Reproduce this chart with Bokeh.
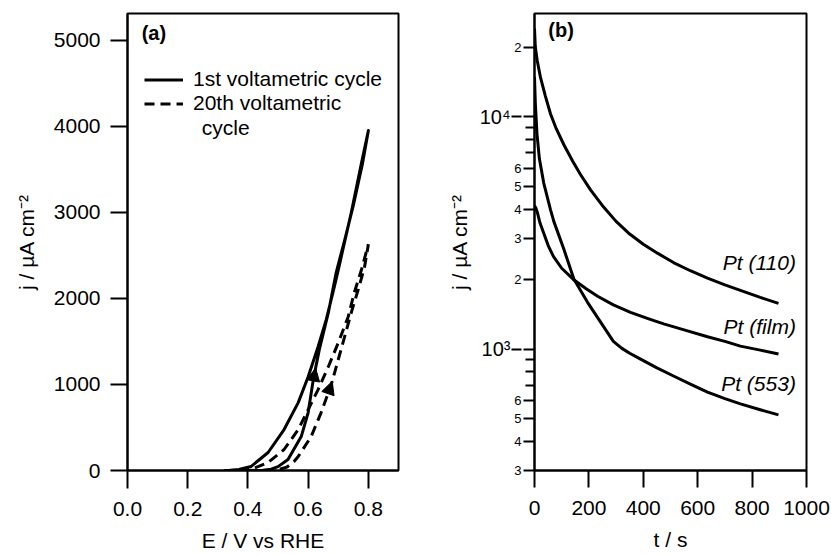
import numpy as np
from bokeh.plotting import figure
from bokeh.layouts import row
from bokeh.models import (Range1d, FixedTicker, Legend, LegendItem, Label, Arrow,
                          NormalHead, NumeralTickFormatter, LogAxis)
from bokeh.embed import file_html
from bokeh.resources import INLINE

# ---------------- panel (a) data : cyclic voltammograms ----------------
cyc1_fwd_E = [0.32, 0.40, 0.45, 0.477, 0.50, 0.533, 0.577, 0.60, 0.617, 0.637, 0.667, 0.693, 0.72, 0.75, 0.78, 0.80]
cyc1_fwd_j = [0, 0, 3, 15, 45, 128, 394, 673, 1056, 1404, 1833, 2300, 2660, 3080, 3560, 3950]
cyc1_rev_E = [0.80, 0.777, 0.743, 0.70, 0.687, 0.66, 0.633, 0.60, 0.567, 0.52, 0.467, 0.41, 0.37, 0.34, 0.32]
cyc1_rev_j = [3950, 3573, 2993, 2332, 2135, 1752, 1439, 1090, 789, 476, 209, 46, 12, 3, 0]

cyc20_fwd_E = [0.40, 0.46, 0.50, 0.53, 0.553, 0.567, 0.61, 0.643, 0.677, 0.70, 0.72, 0.743, 0.767, 0.787, 0.80]
cyc20_fwd_j = [0, 0, 10, 40, 104, 162, 394, 673, 1000, 1290, 1540, 1833, 2110, 2360, 2630]
cyc20_rev_E = [0.80, 0.777, 0.753, 0.733, 0.70, 0.667, 0.633, 0.60, 0.567, 0.52, 0.467, 0.42, 0.38]
cyc20_rev_j = [2630, 2332, 2065, 1787, 1485, 1206, 940, 708, 476, 244, 93, 25, 0]

legend_labels = ["1st voltametric cycle", "20th voltametric", "cycle"]

# ---------------- panel (b) data : chronoamperometry ----------------
t_110 = [0, 3, 10, 22, 40, 59, 80, 108, 140, 169, 206, 254, 300, 350, 400, 452, 511, 575, 636, 700, 757, 830, 897]
j_110 = [24000, 20000, 17500, 14800, 12300, 10300, 8900, 7590, 6460, 5650, 4850, 4090, 3550, 3130, 2830,
         2590, 2360, 2170, 2020, 1890, 1790, 1670, 1575]
t_film = [0, 5, 10, 20, 33, 50, 70, 100, 143, 190, 232, 290, 353, 420, 475, 550, 636, 700, 757, 830, 897]
j_film = [4150, 4050, 3900, 3500, 3180, 2800, 2500, 2230, 1996, 1820, 1690, 1550, 1440, 1350, 1285, 1210,
          1130, 1080, 1030, 990, 952]
t_553 = [0, 3, 9, 18, 34, 59, 71, 108, 145, 195, 243, 290, 320, 350, 390, 450, 511, 575, 636, 700, 757, 830, 897]
j_553 = [14860, 11500, 8500, 6600, 5190, 3980, 3550, 2690, 2000, 1590, 1306, 1080, 1010, 960, 906, 830, 766,
         705, 653, 612, 581, 548, 521]
series_b_names = ["Pt (110)", "Pt (film)", "Pt (553)"]

a_xticks = [0.0, 0.2, 0.4, 0.6, 0.8]
a_yticks = [0, 1000, 2000, 3000, 4000, 5000]
b_xticks = [0, 200, 400, 600, 800, 1000]
b_yticks_major = [300, 400, 500, 600, 1000, 2000, 3000, 4000, 5000, 6000, 10000, 20000]
b_yticks_minor = [700, 800, 900, 7000, 8000, 9000]
b_ytick_labels = {300: "3", 400: "4", 500: "5", 600: "6", 1000: " ", 2000: "2", 3000: "3", 4000: "4",
                  5000: "5", 6000: "6", 10000: " ", 20000: "2"}
b_decades = [1000, 10000]
b_decade_labels = {1000: "10³", 10000: "10⁴"}

FONT = "Liberation Sans"
BIG = "21px"
LW = 3


def style_axis(ax, tick_out, label_size=BIG):
    ax.axis_line_color = "black"
    ax.axis_line_width = 2
    ax.major_tick_line_color = "black"
    ax.major_tick_line_width = 2
    ax.minor_tick_line_color = "black"
    ax.minor_tick_line_width = 2
    ax.major_tick_out = tick_out
    ax.major_tick_in = 0
    ax.minor_tick_in = 0
    ax.major_label_text_font = FONT
    ax.major_label_text_font_size = label_size
    ax.major_label_text_color = "black"
    ax.axis_label_text_font = FONT
    ax.axis_label_text_font_size = BIG
    ax.axis_label_text_font_style = "normal"
    ax.axis_label_text_color = "black"


def base_fig(width, left, right, **kw):
    p = figure(width=width, height=554, output_backend="svg", toolbar_location=None,
               min_border_left=left, min_border_right=right, min_border_top=13,
               min_border_bottom=83, **kw)
    p.outline_line_color = "black"
    p.outline_line_width = 2
    p.outline_line_alpha = 1
    p.grid.visible = False
    p.background_fill_color = "white"
    p.border_fill_color = "white"
    return p


# ---------------- panel (a) ----------------
pa = base_fig(440, 127, 42, x_range=Range1d(0, 0.9), y_range=Range1d(0, 5310))
r1 = pa.line(cyc1_fwd_E + cyc1_rev_E, cyc1_fwd_j + cyc1_rev_j, line_color="black", line_width=LW,
             line_join="round")
r20 = pa.line(cyc20_fwd_E + cyc20_rev_E, cyc20_fwd_j + cyc20_rev_j, line_color="black", line_width=LW,
              line_dash="10 6")

for fE, fj, tip, base in [(cyc1_fwd_E, cyc1_fwd_j, 1190, 990), (cyc20_fwd_E, cyc20_fwd_j, 1036, 824)]:
    pa.add_layout(Arrow(x_start=float(np.interp(base, fj, fE)), y_start=base,
                        x_end=float(np.interp(tip, fj, fE)), y_end=tip,
                        end=NormalHead(size=13, fill_color="black", line_color="black", line_width=1),
                        line_alpha=0, line_width=0))

pa.xaxis.ticker = FixedTicker(ticks=a_xticks, minor_ticks=[])
pa.xaxis.formatter = NumeralTickFormatter(format="0.0")
pa.yaxis.ticker = FixedTicker(ticks=a_yticks, minor_ticks=[])
pa.xaxis.axis_label = "E / V vs RHE"
pa.yaxis.axis_label = "j / µA cm⁻²"
style_axis(pa.xaxis[0], 18)
style_axis(pa.yaxis[0], 17)
pa.xaxis.major_label_standoff = 13
pa.xaxis.axis_label_standoff = 10
pa.yaxis.major_label_standoff = 10
pa.yaxis.axis_label_standoff = 13

leg = Legend(items=[LegendItem(label=legend_labels[0], renderers=[r1]),
                    LegendItem(label=legend_labels[1], renderers=[r20])],
             location=(17, 355), glyph_width=39, glyph_height=23, label_height=23,
             label_standoff=10, spacing=0, padding=0, margin=0,
             border_line_alpha=0, background_fill_alpha=0,
             label_text_font=FONT, label_text_font_size=BIG, label_text_color="black")
pa.add_layout(leg)
pa.add_layout(Label(x=0.247, y=3991, text=legend_labels[2], text_font=FONT, text_font_size=BIG,
                    text_baseline="middle", text_align="left", text_color="black"))
pa.add_layout(Label(x=0.047, y=5081, text="(a)", text_font=FONT, text_font_size="20px",
                    text_font_style="bold", text_baseline="middle", text_color="black"))

# ---------------- panel (b) ----------------
pb = base_fig(391, 94, 25, x_range=Range1d(0, 1000), y_range=Range1d(300, 27900), y_axis_type="log")
for t, j in [(t_110, j_110), (t_film, j_film), (t_553, j_553)]:
    pb.line(t, j, line_color="black", line_width=LW, line_join="round")

for name, ypos in zip(series_b_names, [2360, 1255, 708]):
    pb.add_layout(Label(x=961, y=ypos, text=name, text_font=FONT, text_font_size=BIG,
                        text_font_style="italic", text_align="right", text_baseline="middle",
                        text_color="black"))
pb.add_layout(Label(x=51, y=23600, text="(b)", text_font=FONT, text_font_size="20px",
                    text_font_style="bold", text_baseline="middle", text_color="black"))

pb.xaxis.ticker = FixedTicker(ticks=b_xticks, minor_ticks=[])
pb.yaxis.ticker = FixedTicker(ticks=b_yticks_major, minor_ticks=b_yticks_minor)
pb.yaxis.major_label_overrides = b_ytick_labels
pb.xaxis.axis_label = "t / s"
style_axis(pb.xaxis[0], 17)
style_axis(pb.yaxis[0], 11, "13px")
pb.yaxis.minor_tick_out = 9
pb.xaxis.major_label_standoff = 13
pb.xaxis.axis_label_standoff = 10
pb.yaxis.major_label_standoff = 2

# outer axis carrying the decade labels (10³, 10⁴), the longer decade ticks and the axis title
dec_axis = LogAxis(ticker=FixedTicker(ticks=b_decades, minor_ticks=[]),
                   major_label_overrides=b_decade_labels, axis_label="j / µA cm⁻²")
style_axis(dec_axis, 0, "20px")
dec_axis.axis_line_alpha = 0
dec_axis.major_tick_in = 10
dec_axis.major_tick_out = 0
dec_axis.minor_tick_line_alpha = 0
dec_axis.major_label_standoff = 1
dec_axis.axis_label_standoff = 6
pb.add_layout(dec_axis, "left")

layout = row(pa, pb)
open("out.html", "w").write(file_html(layout, INLINE))
